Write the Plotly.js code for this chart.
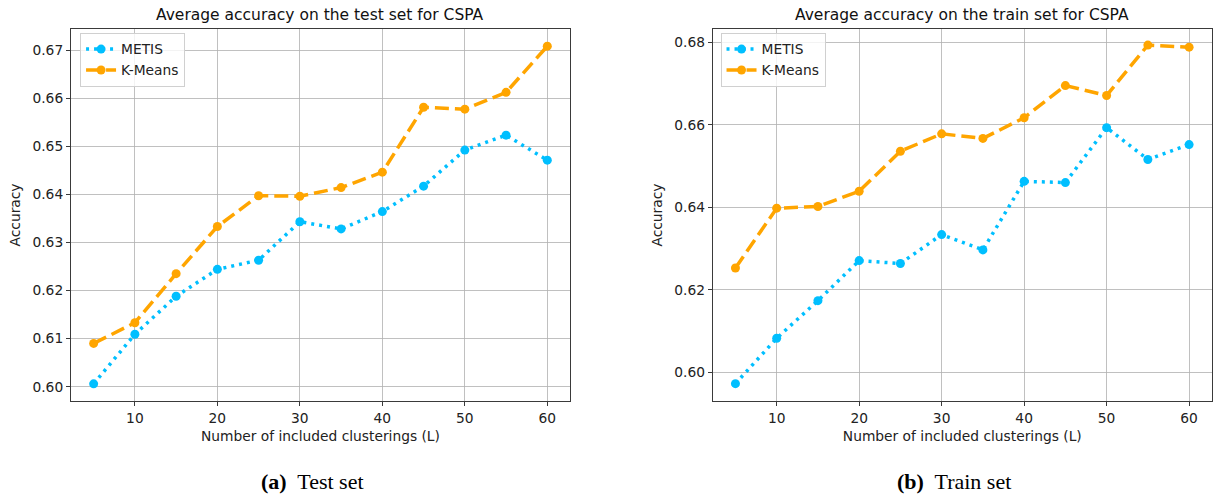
<!DOCTYPE html>
<html>
<head>
<meta charset="utf-8">
<script src="https://cdn.plot.ly/plotly-3.0.1.min.js"></script>
<style>
html, body { margin: 0; padding: 0; background: #fff; }
#chart { width: 1213px; height: 494px; }
</style>
</head>
<body>
<div id="chart"></div>
<script>
// Data
var L = [5, 10, 15, 20, 25, 30, 35, 40, 45, 50, 55, 60];
var testMetis  = [0.6006, 0.6109, 0.6188, 0.6244, 0.6263, 0.6343, 0.6328, 0.6364, 0.6417, 0.6492, 0.6523, 0.6471];
var testKMeans = [0.6090, 0.6133, 0.6235, 0.6333, 0.6397, 0.6396, 0.6414, 0.6446, 0.6581, 0.6577, 0.6612, 0.6708];
var trainMetis  = [0.5973, 0.6083, 0.6174, 0.6271, 0.6264, 0.6334, 0.6297, 0.6463, 0.6460, 0.6593, 0.6516, 0.6552];
var trainKMeans = [0.6253, 0.6398, 0.6402, 0.6439, 0.6536, 0.6578, 0.6567, 0.6617, 0.6695, 0.6671, 0.6793, 0.6788];
var seriesNames = ["METIS", "K-Means"];
var titles = ["Average accuracy on the test set for CSPA", "Average accuracy on the train set for CSPA"];
var captionTags = ["(a)", "(b)"];
var captionTexts = ["Test set", "Train set"];
var xTitle = "Number of included clusterings (L)";
var yTitle = "Accuracy";

var blue = "#00BFFF", orange = "#FFA500";
var font = "DejaVu Sans, sans-serif";
var fs = 13.8;

function trace(x, y, name, color, dash, xa, ya, leg, show) {
  return {
    x: x, y: y, name: name, type: "scatter", mode: "lines+markers",
    xaxis: xa, yaxis: ya, legend: leg, showlegend: show,
    line: {color: color, width: 3.5, dash: dash},
    marker: {color: color, size: 9, symbol: "circle"}
  };
}

var data = [
  trace(L, testMetis,  seriesNames[0], blue,   "3px,5px",  "x",  "y",  "legend",  true),
  trace(L, testKMeans, seriesNames[1], orange, "14px,6px", "x",  "y",  "legend",  true),
  trace(L, trainMetis,  seriesNames[0], blue,   "3px,5px",  "x2", "y2", "legend2", true),
  trace(L, trainKMeans, seriesNames[1], orange, "14px,6px", "x2", "y2", "legend2", true)
];

function xaxis(domain, anchor) {
  return {
    domain: domain, anchor: anchor, range: [2.25, 62.75],
    tickvals: [10, 20, 30, 40, 50, 60],
    showgrid: true, gridcolor: "#b0b0b0", gridwidth: 0.8,
    zeroline: false, showline: true, mirror: true, linecolor: "#3a3a3a", linewidth: 1,
    ticks: "outside", ticklen: 4, tickcolor: "#3a3a3a", tickwidth: 1,
    tickfont: {family: font, size: fs, color: "#222"},
    title: {text: xTitle, font: {family: font, size: fs, color: "#222"}, standoff: 6}
  };
}
function yaxis(domain, anchor, range, dtick, fmt) {
  return {
    domain: domain, anchor: anchor, range: range, dtick: dtick, tick0: 0.6,
    tickformat: fmt,
    showgrid: true, gridcolor: "#b0b0b0", gridwidth: 0.8,
    zeroline: false, showline: true, mirror: true, linecolor: "#3a3a3a", linewidth: 1,
    ticks: "outside", ticklen: 4, tickcolor: "#3a3a3a", tickwidth: 1,
    tickfont: {family: font, size: fs, color: "#222"},
    title: {text: yTitle, font: {family: font, size: fs, color: "#222"}, standoff: 8}
  };
}

var yd = [0.1883, 0.9413];
var legendStyle = function (x) {
  return {
    x: x, y: 0.934, xanchor: "left", yanchor: "top",
    bgcolor: "rgba(255,255,255,0.8)", bordercolor: "#d0d0d0", borderwidth: 1,
    font: {family: font, size: fs, color: "#222"},
    itemwidth: 30, tracegroupgap: 0
  };
};

var serif = "Liberation Serif, serif";
var layout = {
  width: 1213, height: 494,
  margin: {l: 0, r: 0, t: 0, b: 0},
  paper_bgcolor: "#fff", plot_bgcolor: "#fff",
  font: {family: font},
  xaxis: xaxis([0.0585, 0.4699], "y"),
  yaxis: yaxis(yd, "x", [0.59703, 0.67437], 0.01, ".2f"),
  xaxis2: xaxis([0.5876, 0.9990], "y2"),
  yaxis2: yaxis(yd, "x2", [0.5931, 0.6832], 0.02, ".2f"),
  legend: legendStyle(0.066),
  legend2: legendStyle(0.594),
  annotations: [
    {text: titles[0], xref: "paper", yref: "paper", x: (0.0585 + 0.4699) / 2, y: 1 - 15 / 494,
     xanchor: "center", yanchor: "middle", showarrow: false,
     font: {family: font, size: 15.5, color: "#111"}},
    {text: titles[1], xref: "paper", yref: "paper", x: (0.5876 + 0.9990) / 2, y: 1 - 15 / 494,
     xanchor: "center", yanchor: "middle", showarrow: false,
     font: {family: font, size: 15.5, color: "#111"}},
    {text: "<b>" + captionTags[0] + "</b>  " + captionTexts[0], xref: "paper", yref: "paper",
     x: 312 / 1213, y: 1 - 481 / 494, xanchor: "center", yanchor: "middle", showarrow: false,
     font: {family: serif, size: 22, color: "#000"}},
    {text: "<b>" + captionTags[1] + "</b>  " + captionTexts[1], xref: "paper", yref: "paper",
     x: 954 / 1213, y: 1 - 481 / 494, xanchor: "center", yanchor: "middle", showarrow: false,
     font: {family: serif, size: 22, color: "#000"}}
  ]
};

Plotly.newPlot("chart", data, layout, {displayModeBar: false, staticPlot: true});
</script>
</body>
</html>
